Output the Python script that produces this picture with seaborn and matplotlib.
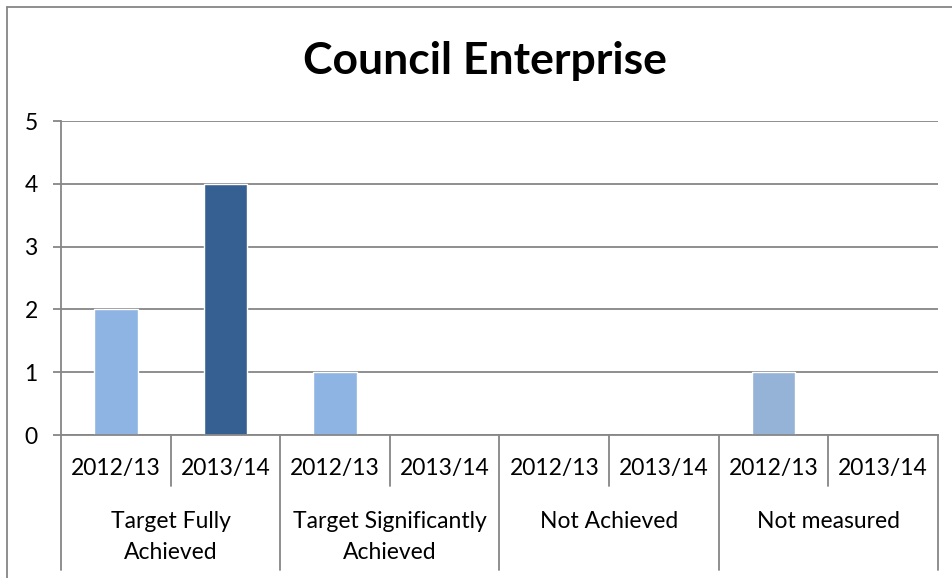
import pandas as pd
import seaborn as sns
import matplotlib.pyplot as plt
from matplotlib.lines import Line2D

# chart values
groups = ["Target Fully\nAchieved", "Target Significantly\nAchieved", "Not Achieved", "Not measured"]
years = ["2012/13", "2013/14"]
counts = [2, 4, 1, 0, 0, 0, 1, 0]
bar_colors = ["#8EB4E3", "#376092", "#8EB4E3", "#376092", "#8EB4E3", "#376092", "#95B3D7", "#376092"]

rows = []
for gi, g in enumerate(groups):
    for yi, yr in enumerate(years):
        rows.append({"slot": str(gi) + "-" + yr, "group": g, "year": yr, "count": counts[gi * 2 + yi]})
df = pd.DataFrame(rows)

sns.set_style("white")
plt.rcParams['font.family'] = ['Lato', 'DejaVu Sans']
plt.rcParams['text.color'] = 'black'
plt.rcParams['ytick.labelcolor'] = 'black'

W, H = 953, 578
grey = "#868686"
fs = 16.5
fig = plt.figure(figsize=(W / 100, H / 100), dpi=100)
ax = fig.add_axes([61 / W, (H - 435) / H, (938 - 61) / W, (435 - 121) / H])

sns.barplot(data=df, x="slot", y="count", hue="slot", palette=bar_colors,
            width=0.4, saturation=1, legend=False, ax=ax)

ax.set_xlim(-0.5, 7.5)
ax.set_ylim(0, 5)
ax.set_yticks(range(6))
ax.set_axisbelow(True)
ax.yaxis.grid(True, color=grey, lw=1.3)
ax.set_xticks([])
ax.set_xlabel("")
ax.set_ylabel("")
ax.tick_params(axis="y", length=5.8, width=1.3, color=grey, labelsize=fs, labelcolor="black", pad=11, left=True)
for s in ["top", "right"]:
    ax.spines[s].set_visible(False)
for s in ["left", "bottom"]:
    ax.spines[s].set_color(grey)
    ax.spines[s].set_linewidth(1.3)

# multi-level category axis
def ay(py):
    return (435 - py) / (435 - 121)

tr = ax.get_xaxis_transform()
ax.add_line(Line2D([-0.5, -0.5], [0, ay(570)], transform=tr, color=grey, lw=1.3, clip_on=False))
for i in range(8):
    ax.text(i, ay(469), df["year"][i], transform=tr, ha="center", va="center", fontsize=fs)
    edge = i + 0.5
    bottom = ay(486) if i % 2 == 0 else ay(570)
    ax.add_line(Line2D([edge, edge], [0, bottom], transform=tr, color=grey, lw=1.3, clip_on=False))
for gi, g in enumerate(groups):
    for k, line in enumerate(g.split("\n")):
        ax.text(gi * 2 + 0.5, ay(528 + 31 * k), line, transform=tr, ha="center", va="baseline", fontsize=fs)

fig.text(485 / W, 1 - 74 / H, "Council Enterprise", ha="center", va="baseline", fontsize=32, fontweight="bold")

# chart frame (left and top edges)
fig.add_artist(Line2D([7 / W, 7 / W], [0, 1 - 7 / H], transform=fig.transFigure, color=grey, lw=1.3))
fig.add_artist(Line2D([7 / W, 1], [1 - 7 / H, 1 - 7 / H], transform=fig.transFigure, color=grey, lw=1.3))

fig.savefig("out.png", dpi=100)
